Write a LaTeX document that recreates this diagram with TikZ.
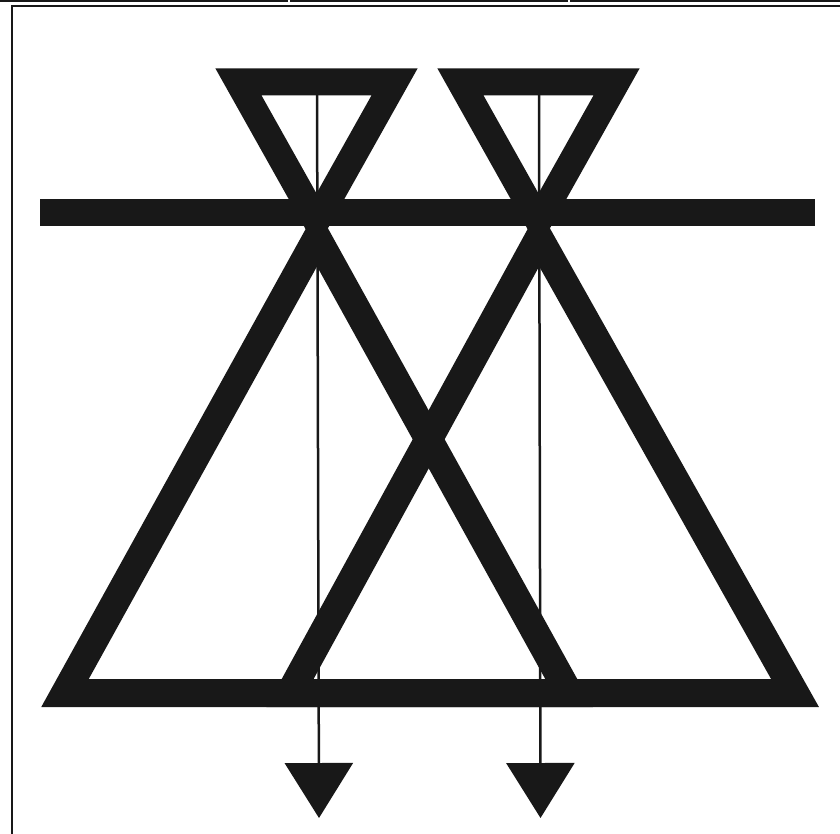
\documentclass[tikz,border=0pt]{standalone}
\usetikzlibrary{arrows.meta}
\definecolor{ink}{HTML}{181818}

\begin{document}
\begin{tikzpicture}[
  x=1pt,y=-1pt,
  band/.style={draw=ink, line width=28pt, line join=miter, miter limit=10},
  cupband/.style={band, line width=27pt},
  rail/.style={draw=ink, line width=27pt},
  stem/.style={-{Triangle[length=55pt,width=68pt]}, draw=ink, fill=ink,
    line width=2.5pt},
  frameline/.style={draw=ink, line width=2pt}
]
\useasboundingbox (0,0) rectangle (840,834);

% Sheet frame and the cells above it, cut off at the page edge.
\draw[frameline] (12,834) -- (12,6) -- (840,6);
\draw[frameline] (0,1) -- (287,1) -- (287,-2);
\draw[frameline] (291,-2) -- (291,1) -- (567,1) -- (567,-2);
\draw[frameline] (571,-2) -- (571,1) -- (840,1);

% Large triangles; their bases run together into one band.
\draw[band] (317,237.5) -- (65,693) -- (569,693) -- cycle;
\draw[band] (539,237.5) -- (290,693) -- (795,693) -- cycle;

% Cross bar through both apexes.
\draw[rail] (40,212.5) -- (815,212.5);

% Small inverted triangles on top of the bar.
\draw[cupband] (238.5,82) -- (394.5,82) -- (316.5,221) -- cycle;
\draw[cupband] (460.5,82) -- (616.5,82) -- (538.5,221) -- cycle;

% Stems, ending in the two arrowheads below the base.
\coordinate (stemLtop) at (317,82);
\coordinate (stemLend) at (319,818);
\coordinate (stemRtop) at (539,82);
\coordinate (stemRend) at (540.5,818);
\draw[stem] (stemLtop) -- (stemLend);
\draw[stem] (stemRtop) -- (stemRend);

\end{tikzpicture}
\end{document}
